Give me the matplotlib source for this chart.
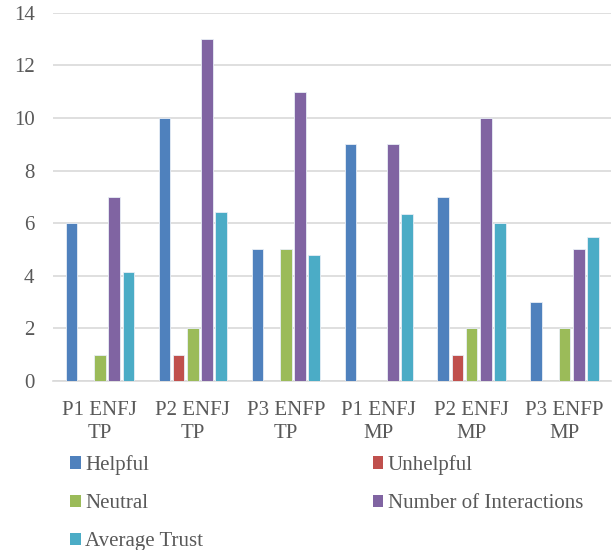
import numpy as np
import matplotlib.pyplot as plt
from matplotlib.patches import Patch

plt.rcParams['font.family'] = ['Liberation Serif', 'DejaVu Serif']

categories = ['P1 ENFJ\nTP', 'P2 ENFJ\nTP', 'P3 ENFP\nTP', 'P1 ENFJ\nMP', 'P2 ENFJ\nMP', 'P3 ENFP\nMP']
helpful = [6, 10, 5, 9, 7, 3]
unhelpful = [0, 1, 0, 0, 1, 0]
neutral = [1, 2, 5, 0, 2, 2]
interactions = [7, 13, 11, 9, 10, 5]
avg_trust = [4.13, 6.43, 4.8, 6.36, 6.0, 5.48]

series = [
    ('Helpful', helpful, '#4F81BD'),
    ('Unhelpful', unhelpful, '#C0504D'),
    ('Neutral', neutral, '#9BBB59'),
    ('Number of Interactions', interactions, '#8064A2'),
    ('Average Trust', avg_trust, '#4BACC6'),
]

fig = plt.figure(figsize=(6.13, 5.5), dpi=100)
ax = fig.add_axes([0.087, 0.3073, 0.910, 0.6697])

x = np.arange(len(categories))
step = 0.153
width = 0.124
handles = {}
for i, (name, vals, color) in enumerate(series):
    offs = x + (i - 2) * step
    vals = np.array(vals, dtype=float)
    keep = vals > 0
    ax.bar(offs[keep], vals[keep], width, color=color, edgecolor='#E8EEF6',
           linewidth=0.6, zorder=3)
    handles[name] = Patch(facecolor=color, edgecolor='none')

ax.set_ylim(0, 14)
ax.set_yticks(range(0, 15, 2))
ax.set_xlim(-0.5, len(categories) - 0.5)
ax.set_xticks(x)
ax.set_xticklabels(categories, linespacing=1.25)
ax.tick_params(axis='both', length=0, labelsize=15, colors='#595959')
ax.tick_params(axis='x', pad=14.5)
ax.tick_params(axis='y', pad=13.5)
ax.grid(axis='y', color='#D9D9D9', linewidth=1.2, zorder=0)
for s in ['top', 'right', 'left']:
    ax.spines[s].set_visible(False)
ax.spines['bottom'].set_color('#D9D9D9')
ax.spines['bottom'].set_linewidth(1.2)

order = ['Helpful', 'Neutral', 'Average Trust', 'Unhelpful', 'Number of Interactions']
leg = fig.legend([handles[n] for n in order], order, ncol=2, loc='upper left',
                 bbox_to_anchor=(0.1142, 0.1727), frameon=False, fontsize=15,
                 handlelength=0.52, handleheight=0.52, handletextpad=0.2,
                 columnspacing=8.14, labelspacing=0.92, borderaxespad=0,
                 borderpad=0, labelcolor='#595959')

fig.savefig('out.png', dpi=100)
